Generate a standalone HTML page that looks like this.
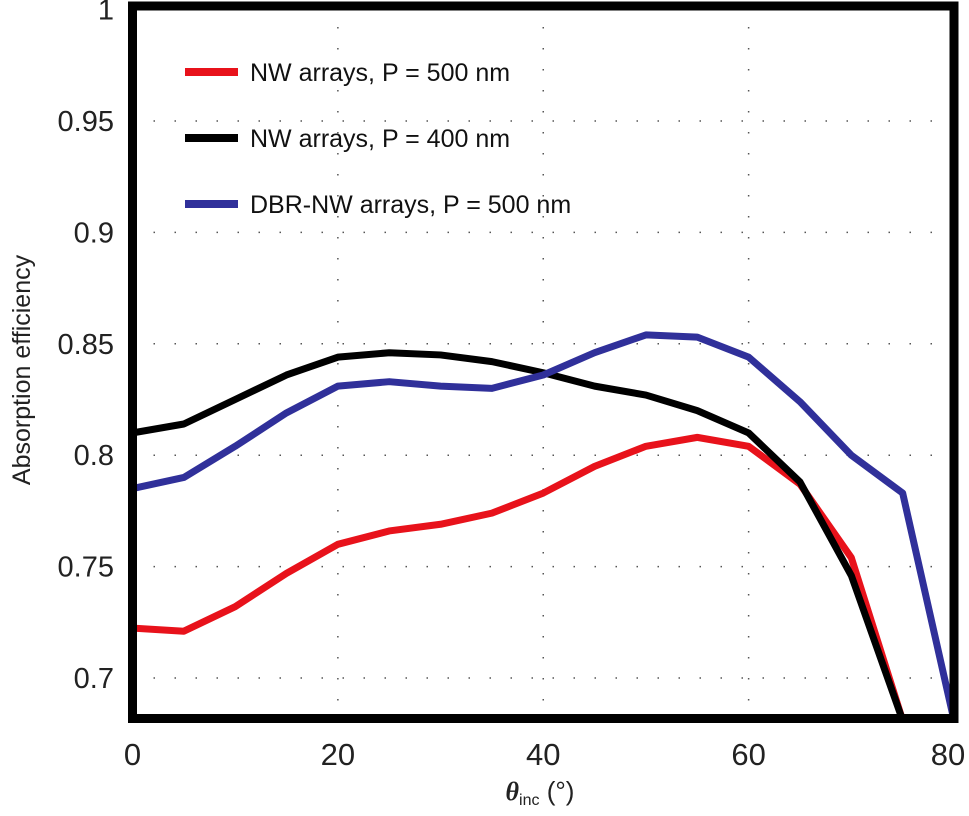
<!DOCTYPE html>
<html><head><meta charset="utf-8"><style>
html,body{margin:0;padding:0;background:#fff;overflow:hidden;width:969px;height:816px}
svg{display:block}
svg text{font-family:"Liberation Sans",sans-serif}
</style></head><body>
<svg id="chart" width="969" height="816"></svg>
<script>
const angles=[0,5,10,15,20,25,30,35,40,45,50,55,60,65,70,75,80];
const redVals=[0.7224,0.721,0.732,0.747,0.760,0.766,0.769,0.774,0.783,0.795,0.804,0.808,0.804,0.787,0.754,0.681,0.675];
const blackVals=[0.810,0.814,0.825,0.836,0.844,0.846,0.845,0.842,0.837,0.831,0.827,0.820,0.810,0.788,0.746,0.681,0.675];
const blueVals=[0.785,0.790,0.804,0.819,0.831,0.833,0.831,0.830,0.836,0.846,0.854,0.853,0.844,0.824,0.800,0.783,0.681];
const xTicks=[0,20,40,60,80];
const yTicks=[0.7,0.75,0.8,0.85,0.9,0.95,1];
const yTickLabels=["0.7","0.75","0.8","0.85","0.9","0.95","1"];
const legendLabels=["NW arrays, P = 500 nm","NW arrays, P = 400 nm","DBR-NW arrays, P = 500 nm"];
const colors=["#e8121b","#000000","#30309a"];
const NS="http://www.w3.org/2000/svg";
const svg=document.getElementById('chart');
const X0=132.5,X1=954,Y0=678,PER=2228;
const xs=v=>X0+(v/80)*(X1-X0);
const ys=v=>Y0-(v-0.7)*PER;
function mk(t,a,p){const e=document.createElementNS(NS,t);for(const k in a)e.setAttribute(k,a[k]);(p||svg).appendChild(e);return e;}
const defs=mk('defs',{});const cp=mk('clipPath',{id:'c'},defs);mk('rect',{x:133,y:6,width:821,height:712},cp);
for(const t of yTicks.slice(0,6)){const g=mk('line',{x1:X0,x2:X1,y1:ys(t),y2:ys(t),stroke:'#555','stroke-width':1.5,'stroke-dasharray':'1.5 19.5'});

}
for(const t of [20,40,60]){const g=mk('line',{x1:xs(t),x2:xs(t),y1:6,y2:718,stroke:'#555','stroke-width':1.5,'stroke-dasharray':'1.5 19.5'});

}
const series=[redVals,blackVals,blueVals];const names=['series-red-p500','series-black-p400','series-blue-dbr-p500'];
series.forEach((vals,i)=>{const pts=angles.map((a,j)=>xs(a)+','+ys(vals[j])).join(' ');
const l=mk('polyline',{points:pts,fill:'none',stroke:colors[i],'stroke-width':7,'stroke-linejoin':'round','clip-path':'url(#c)'});

});
const fr=mk('rect',{x:132.5,y:6,width:821.5,height:712.5,fill:'none',stroke:'#000','stroke-width':9});


yTicks.forEach((t,i)=>{const tx=mk('text',{x:114,y:ys(t)+10,'text-anchor':'end','font-size':29,fill:'#222'});tx.textContent=yTickLabels[i];

});
xTicks.forEach(t=>{const tx=mk('text',{x:Math.min(xs(t),948),y:765,'text-anchor':'middle','font-size':31,fill:'#222'});tx.textContent=String(t);

});
legendLabels.forEach((s,i)=>{const y=72+i*66;
const ln=mk('line',{x1:185,x2:238,y1:y,y2:y,stroke:colors[i],'stroke-width':8});


const tx=mk('text',{x:250,y:y+9,'font-size':25,fill:'#111'});tx.textContent=s;

});
const yl=mk('text',{x:0,y:0,transform:'translate(30,370) rotate(-90)','text-anchor':'middle','font-size':25,fill:'#222'});yl.textContent='Absorption efficiency';


const xl=mk('text',{x:540,y:800,'text-anchor':'middle','font-size':26,fill:'#222'});
xl.innerHTML='<tspan font-style="italic" font-weight="bold" font-family="Liberation Serif">θ</tspan><tspan font-size="16" dy="5">inc</tspan><tspan dy="-5"> (°)</tspan>';


</script>
</body></html>
